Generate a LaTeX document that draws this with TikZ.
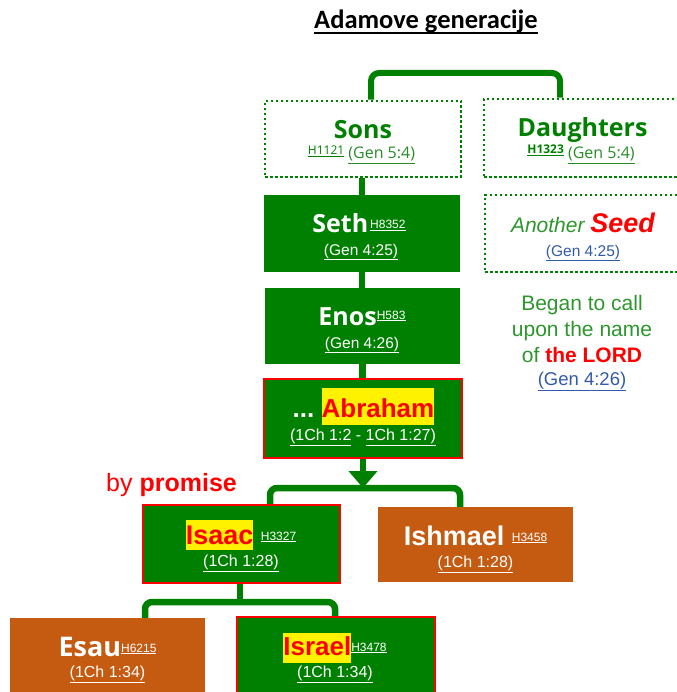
\documentclass[tikz,border=0pt]{standalone}
\usepackage{fontspec}
\setmainfont{Liberation Sans}
\newfontfamily\noto{Open Sans}
\newfontfamily\carl{Carlito}
\usetikzlibrary{arrows.meta}
\definecolor{gr}{RGB}{0,128,0}
\definecolor{lgr}{RGB}{45,150,45}
\definecolor{mgr}{RGB}{40,140,40}
\definecolor{org}{RGB}{197,90,17}
\definecolor{lnk}{RGB}{50,90,170}
\newcommand\fs[1]{\fontsize{#1}{#1}\selectfont}
\newcommand\hl[3]{{\setlength{\fboxsep}{0pt}\colorbox{yellow}{\rule[-#2pt]{0pt}{#1pt}#3}}}
\newcommand\sref[1]{\raisebox{4pt}{\mdseries\normalfont\fs{12}\underline{#1}}}
\pgfdeclarelayer{bg}
\pgfsetlayers{bg,main}
\begin{document}
\begin{tikzpicture}[x=1pt,y=-1pt,
  tx/.style={inner sep=0pt,anchor=base},
  conn/.style={draw=gr,line width=6.5pt},
  dbox/.style={draw=gr,line width=2.5pt,dash pattern=on 2.5pt off 2.5pt,inner sep=0pt},
  gbox/.style={fill=gr,inner sep=0pt},
  obox/.style={fill=org,inner sep=0pt},
  rbox/.style={fill=gr,draw=red,line width=2.5pt,inner sep=0pt}]
\useasboundingbox (0,0) rectangle (676,692);
% title
\node[tx] (title) at (426,29) {\carl\bfseries\fs{26.5}Adamove generacije};
\draw[line width=1.6pt] ([yshift=-4pt]title.base west) -- ([yshift=-4pt]title.base east);
% boxes
\node[dbox,minimum width=196pt,minimum height=76pt] (sons) at (363,139) {};
\node[dbox,minimum width=216pt,minimum height=78pt] (dau) at (592,138) {};
\node[gbox,minimum width=196pt,minimum height=77pt] (seth) at (362,233.5) {};
\node[gbox,minimum width=195pt,minimum height=76pt] (enos) at (362.5,326) {};
\node[rbox,minimum width=198pt,minimum height=79pt] (abr) at (363,418.5) {};
\node[dbox,minimum width=215pt,minimum height=77pt] (seed) at (592.5,233.5) {};
\node[rbox,minimum width=197pt,minimum height=78pt] (isaac) at (241.5,544) {};
\node[obox,minimum width=195pt,minimum height=75pt] (ish) at (475.5,544.5) {};
\node[obox,minimum width=195pt,minimum height=82pt] (esau) at (107.5,659) {};
\node[rbox,minimum width=198pt,minimum height=83pt] (isr) at (336,658.5) {};
% connectors
\coordinate (topc) at (466,73);
\coordinate (bar1) at (363,488);
\coordinate (bar2) at (240,602);
\begin{pgfonlayer}{bg}
\draw[conn,line width=6pt,rounded corners=8pt] ([xshift=8pt]sons.north) |- (topc) -| ([xshift=-32pt]dau.north);
\draw[conn] (sons.south -| seth.north) -- (seth.north);
\draw[conn] (seth.south) -- (seth.south |- enos.north);
\draw[conn] (enos.south) -- (enos.south |- abr.north);
\draw[conn,rounded corners=7pt] ([xshift=28.5pt]isaac.north) |- (bar1) -| ([xshift=-15.5pt]ish.north);
\draw[conn] (isaac.south -| bar2) -- (bar2);
\draw[conn,rounded corners=7pt] ([xshift=37.5pt]esau.north) |- (bar2) -| ([xshift=-1pt]isr.north);
\end{pgfonlayer}
\draw[conn,-{Triangle[width=28pt,length=17pt]}] (abr.south) -- (abr.south |- bar1);
% texts
\node[tx] (sonsT) at (363,139) {\noto\bfseries\fs{25}\color{gr}Sons};
\node[tx] (sonsS) at (361.5,159) {\noto\fs{16}\raisebox{4pt}{\fs{12}\color{gr}\underline{H1121}} \color{mgr}\underline{(Gen 5:4)}};
\node[tx] (dauT) at (582.5,137) {\noto\bfseries\fs{25}\color{gr}Daughters};
\node[tx] (dauS) at (581,159) {\noto\fs{16}\raisebox{5pt}{\fs{12}\bfseries\color{gr}\underline{H1323}} \color{mgr}\underline{(Gen 5:4)}};
\node[tx] (sethT) at (359,233) {\noto\bfseries\fs{25}\color{white}Seth\kern2pt\sref{H8352}};
\node[tx] (sethS) at (361,255) {\fs{15.5}\color{white}\underline{(Gen 4:25)}};
\node[tx] (enosT) at (362,325) {\noto\bfseries\fs{25}\color{white}Enos\raisebox{2pt}{\sref{H583}}};
\node[tx] (enosS) at (362,348) {\fs{15.5}\color{white}\underline{(Gen 4:26)}};
\node[tx] (abrT) at (363.5,417) {\bfseries\fs{26}\color{white}...\ \hl{37}{8}{\color{red}Abraham}};
\node[tx] (abrS) at (363,440) {\fs{16}\color{white}\underline{(1Ch 1:2} - \underline{1Ch 1:27)}};
\node[tx] (seedT) at (583,233) {\itshape\fs{21}\color{lgr}Another \fs{27}\bfseries\color{red}Seed};
\node[tx] (seedS) at (583,256) {\fs{15.5}\color{lnk}\underline{(Gen 4:25)}};
\node[tx] (beg1) at (582,310) {\fs{21}\color{lgr}Began to call};
\node[tx] (beg2) at (582,336) {\fs{21}\color{lgr}upon the name};
\node[tx] (beg3) at (582,362) {\fs{21}\color{lgr}of \textbf{\color{red}the LORD}};
\node[tx] (beg4) at (582,385) {\fs{18.5}\color{lnk}\underline{(Gen 4:26)}};
\node[tx,anchor=base west] (prom) at (106,491) {\fs{25}\color{red}by \textbf{promise}};
\node[tx] (isaacT) at (241,544) {\bfseries\fs{27}\hl{30}{6}{\color{red}Isaac}\ \color{white}\sref{H3327}};
\node[tx] (isaacS) at (241,566) {\fs{16}\color{white}\underline{(1Ch 1:28)}};
\node[tx] (ishT) at (475.5,545) {\bfseries\fs{27}\color{white}Ishmael\ \sref{H3458}};
\node[tx] (ishS) at (475.5,567) {\fs{16}\color{white}\underline{(1Ch 1:28)}};
\node[tx] (esauT) at (107.5,656) {\noto\bfseries\fs{27}\color{white}Esau\sref{H6215}};
\node[tx] (esauS) at (107.5,677) {\fs{16}\color{white}\underline{(1Ch 1:34)}};
\node[tx] (isrT) at (335,655) {\bfseries\fs{26}\hl{30}{8}{\color{red}Israel}\color{white}\sref{H3478}};
\node[tx] (isrS) at (335,677) {\fs{16}\color{white}\underline{(1Ch 1:34)}};
\end{tikzpicture}
\end{document}
